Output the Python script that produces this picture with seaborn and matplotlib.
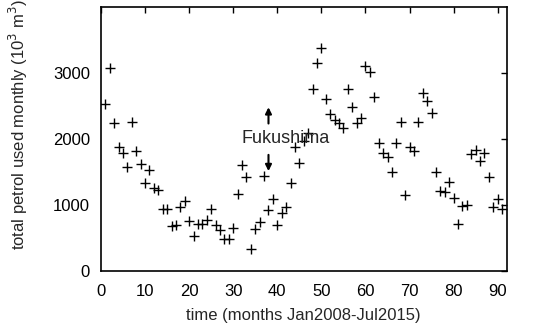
import pandas as pd
import seaborn as sns
import matplotlib.pyplot as plt

# monthly petrol use, Jan2008 .. Jul2015
months = list(range(1, 92))
petrol = [
    2521, 3066, 2242, 1879, 1788, 1576, 2253, 1818, 1627, 1333,
    1536, 1263, 1223, 935, 935, 677, 697, 970, 1061, 758,
    530, 708, 708, 768, 935, 692, 627, 491, 480, 652,
    1162, 1605, 1420, 339, 642, 742, 1439, 930, 1086, 703,
    879, 965, 1333, 1879, 1640, 1960, 2095, 2748, 3142, 3379,
    2597, 2370, 2283, 2233, 2158, 2748, 2485, 2242, 2309, 3101,
    3015, 2636, 1939, 1788, 1727, 1500, 1930, 2258, 1158, 1879,
    1814, 2258, 2688, 2576, 2394, 1500, 1212, 1192, 1348, 1105,
    705, 982, 1000, 1764, 1834, 1662, 1791, 1420, 970, 1097,
    935,
]

x_ticks = [0, 10, 20, 30, 40, 50, 60, 70, 80, 90]
y_ticks = [0, 1000, 2000, 3000]

df = pd.DataFrame({"month": months, "petrol": petrol})

sns.set_style("white")
plt.rcParams["font.family"] = ["Liberation Sans", "DejaVu Sans"]
plt.rcParams["font.size"] = 12

fig = plt.figure(figsize=(5.4, 3.31), dpi=100)
ax = fig.add_axes([0.187, 0.181, 0.751, 0.799])

sns.scatterplot(data=df, x="month", y="petrol", marker="+", color="black",
                s=60, linewidth=1.0, ax=ax, legend=False)

# Fukushima marker
ax.text(42, 2010, "Fukushima", ha="center", va="center", fontsize=13)
ax.annotate("", xy=(38, 2520), xytext=(38, 2190),
            arrowprops=dict(arrowstyle="-|>", color="black", lw=1.5,
                            mutation_scale=9))
ax.annotate("", xy=(38, 1470), xytext=(38, 1800),
            arrowprops=dict(arrowstyle="-|>", color="black", lw=1.5,
                            mutation_scale=9))

ax.set_xlim(0, 92)
ax.set_ylim(0, 4000)
ax.set_xticks(x_ticks)
ax.set_yticks(y_ticks)
ax.tick_params(direction="in", length=4, width=1, top=True, right=True,
               labelsize=12, colors="black")
ax.tick_params(axis="x", pad=9)
ax.tick_params(axis="y", pad=8)
for s in ax.spines.values():
    s.set_linewidth(1.2)
    s.set_color("black")

ax.set_xlabel("time (months Jan2008-Jul2015)", fontsize=12, labelpad=7)
ax.set_ylabel("total petrol used monthly (10$^3$ m$^3$)", fontsize=12)
ax.yaxis.set_label_coords(-0.176, 0.556)

fig.savefig("out.png", dpi=100)
